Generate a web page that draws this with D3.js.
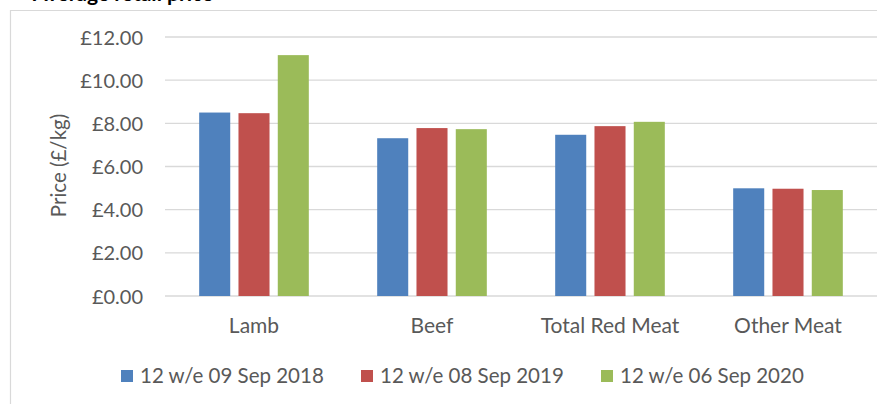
<!DOCTYPE html>
<html>
<head>
<meta charset="utf-8">
<script src="https://cdn.jsdelivr.net/npm/d3@7"></script>
<style>
  body { margin: 0; background: #fff; }
  svg { display: block; font-family: Lato, "Open Sans", sans-serif; }
</style>
</head>
<body>
<div id="chart"></div>
<script>
const categories = ["Lamb", "Beef", "Total Red Meat", "Other Meat"];
const seriesNames = ["12 w/e 09 Sep 2018", "12 w/e 08 Sep 2019", "12 w/e 06 Sep 2020"];
const prices2018 = [8.50, 7.31, 7.47, 4.99];
const prices2019 = [8.47, 7.78, 7.87, 4.97];
const prices2020 = [11.16, 7.73, 8.07, 4.91];
const yTicks = [0, 2, 4, 6, 8, 10, 12];

const seriesValues = [prices2018, prices2019, prices2020];
const colors = ["#4f81bd", "#c0504d", "#9bbb59"];

const w = 882;
const h = 404;
const margin = { top: 37, right: 5, bottom: 108, left: 165 };
const plotRight = w - margin.right;
const plotBottom = h - margin.bottom;

const svg = d3.select("#chart")
  .append("svg")
  .attr("width", w)
  .attr("height", h);

// title, mostly cut off by the top edge (as in the source image)
svg.append("text")
  .attr("x", 33)
  .attr("y", 1)
  .attr("font-weight", "bold")
  .attr("font-size", 21)
  .attr("fill", "#000")
  .text("Average retail price");

// chart area border (only left and top show)
svg.append("path")
  .attr("d", "M10.5," + h + "V10.5H" + (w - 5))
  .attr("fill", "none")
  .attr("stroke", "#d9d9d9")
  .attr("stroke-width", 1.2);

const y = d3.scaleLinear()
  .domain([0, 12])
  .range([plotBottom, margin.top]);

const x0 = d3.scaleBand()
  .domain(categories)
  .range([margin.left, plotRight]);

const x1 = d3.scaleBand()
  .domain(seriesNames)
  .range([0, x0.bandwidth()])
  .paddingInner(0.21)
  .paddingOuter(0.87);

// gridlines
svg.append("g")
  .selectAll("line")
  .data(yTicks)
  .enter()
  .append("line")
  .attr("x1", margin.left)
  .attr("x2", plotRight)
  .attr("y1", (d) => y(d))
  .attr("y2", (d) => y(d))
  .attr("stroke", "#d9d9d9")
  .attr("stroke-width", 1.4);

// y tick labels
svg.append("g")
  .selectAll("text")
  .data(yTicks)
  .enter()
  .append("text")
  .attr("x", 143)
  .attr("y", (d) => y(d) + 7.5)
  .attr("text-anchor", "end")
  .attr("font-size", 20)
  .attr("fill", "#595959")
  .text((d) => "£" + d.toFixed(2));

// y axis title
svg.append("text")
  .attr("transform", "translate(66,165.5) rotate(-90)")
  .attr("text-anchor", "middle")
  .attr("font-size", 20.5)
  .attr("fill", "#595959")
  .text("Price (£/kg)");

// bars
const groups = svg.append("g")
  .selectAll("g")
  .data(seriesNames)
  .enter()
  .append("g")
  .attr("fill", (d, i) => colors[i]);

groups.selectAll("rect")
  .data((s, i) => categories.map((c, j) => ({ cat: c, series: s, value: seriesValues[i][j] })))
  .enter()
  .append("rect")
  .attr("x", (d) => x0(d.cat) + x1(d.series))
  .attr("y", (d) => y(d.value))
  .attr("width", x1.bandwidth())
  .attr("height", (d) => y(0) - y(d.value));

// category labels
svg.append("g")
  .selectAll("text")
  .data(categories)
  .enter()
  .append("text")
  .attr("x", (d) => x0(d) + x0.bandwidth() / 2)
  .attr("y", 333)
  .attr("text-anchor", "middle")
  .attr("font-size", 21)
  .attr("fill", "#595959")
  .text((d) => d);

// legend
const legend = svg.append("g")
  .selectAll("g")
  .data(seriesNames)
  .enter()
  .append("g")
  .attr("transform", (d, i) => "translate(" + (121 + i * 240) + ",370)");

legend.append("rect")
  .attr("width", 12)
  .attr("height", 12)
  .attr("fill", (d, i) => colors[i]);

legend.append("text")
  .attr("x", 19)
  .attr("y", 13)
  .attr("font-size", 20.5)
  .attr("fill", "#595959")
  .text((d) => d);
</script>
</body>
</html>
